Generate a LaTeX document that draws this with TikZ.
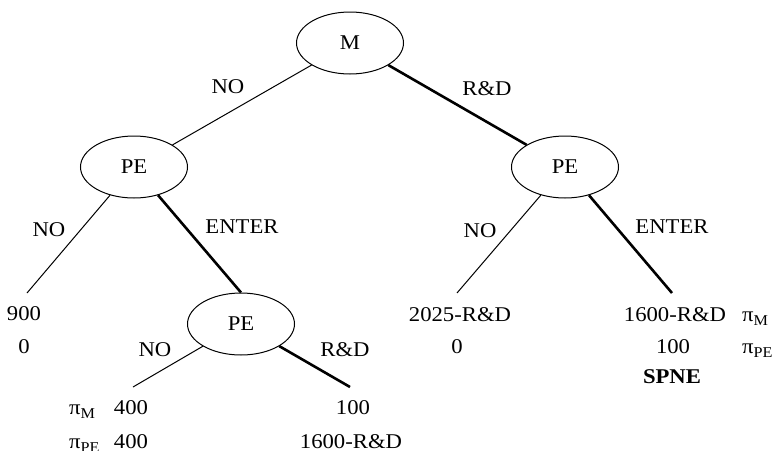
\documentclass[tikz,border=0pt]{standalone}
\usepackage{fontspec}
\setmainfont{Liberation Serif}[FakeStretch=1.08]
\usetikzlibrary{shapes.geometric}
\tikzset{
  player/.style={ellipse, draw, line width=1pt, minimum width=107pt,
    minimum height=62pt, inner sep=0pt, font=\fontsize{21}{21}\selectfont},
  lbl/.style={anchor=base, inner sep=0pt, font=\fontsize{21}{21}\selectfont},
  move/.style={line width=1pt},
  eqmove/.style={line width=2.6pt},
}
\newcommand\payoff[1]{π\raisebox{-4pt}{\fontsize{15}{15}\selectfont #1}}
\begin{document}
\begin{tikzpicture}[x=1pt,y=-1pt]
\useasboundingbox (0,0) rectangle (773,450);
% decision nodes
\node[player] (M) at (350,43) {M};
\node[player] (L) at (134,167) {PE};
\node[player] (R) at (565,167) {PE};
\node[player] (B) at (241,324) {PE};
% terminal points
\coordinate (l1) at (27,293);
\coordinate (b1) at (133,387);
\coordinate (b2) at (350,387);
\coordinate (r1) at (457,293);
\coordinate (r2) at (672,293);
% branches
\draw[move] (M) -- (L);
\draw[eqmove] (M) -- (R);
\draw[move] (L) -- (l1);
\draw[eqmove] (L) -- (B.north);
\draw[move] (B) -- (b1);
\draw[eqmove] (B) -- (b2);
\draw[move] (R) -- (r1);
\draw[eqmove] (R) -- (r2);
% action labels
\node[lbl] (a1) at (228,93) {NO};
\node[lbl] (a2) at (487,95) {R\&D};
\node[lbl] (a3) at (49,236) {NO};
\node[lbl] (a4) at (242,233) {ENTER};
\node[lbl] (a5) at (480,237) {NO};
\node[lbl] (a6) at (672,233) {ENTER};
\node[lbl] (a7) at (155,356) {NO};
\node[lbl] (a8) at (345,356) {R\&D};
% payoffs
\node[lbl] (p1) at (24,320) {900};
\node[lbl] (p2) at (24,353) {0};
\node[lbl] (p3) at (131,414) {400};
\node[lbl] (p4) at (131,448) {400};
\node[lbl] (p5) at (353,414) {100};
\node[lbl] (p6) at (351,448) {1600-R\&D};
\node[lbl] (p7) at (460,321) {2025-R\&D};
\node[lbl] (p8) at (457,353) {0};
\node[lbl] (p9) at (675,321) {1600-R\&D};
\node[lbl] (p10) at (673,353) {100};
\node[lbl, font=\fontsize{21}{21}\selectfont\bfseries] (eq) at (672,383) {SPNE};
% payoff row labels
\node[lbl, anchor=base west] (m1) at (69,414) {\payoff{M}};
\node[lbl, anchor=base west] (e1) at (69,448) {\payoff{PE}};
\node[lbl, anchor=base west] (m2) at (742,321) {\payoff{M}};
\node[lbl, anchor=base west] (e2) at (742,353) {\payoff{PE}};
\end{tikzpicture}
\end{document}
